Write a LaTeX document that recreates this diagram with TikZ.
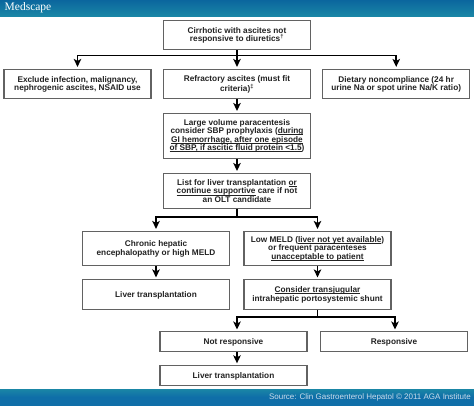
\documentclass[tikz,border=0pt]{standalone}
\usepackage{fontspec}
\setmainfont{Liberation Sans}
\newfontfamily\logofont{Liberation Serif}
\usetikzlibrary{arrows.meta}
\definecolor{band}{HTML}{0B669E}
\definecolor{bandlow}{HTML}{1A86A6}
\definecolor{footmid}{HTML}{0F6EA8}
\definecolor{boxedge}{HTML}{626262}
\definecolor{ink}{HTML}{222222}
\definecolor{srctext}{HTML}{CADDEB}
\newlength{\ulwd}
\newcommand{\ulx}[1]{\settowidth{\ulwd}{#1}\leavevmode\rlap{\rule[-1.1pt]{\ulwd}{0.55pt}}#1}
\tikzset{
  flowbox/.style={draw=boxedge,line width=1.05pt,fill=white,minimum width=147pt,inner sep=0pt,align=center,
    text=ink,font=\fontsize{8.25}{8.4}\selectfont\bfseries,anchor=center,
    execute at begin node={\rule{0pt}{8.2pt}}},
  conn/.style={draw=black,line width=1.5pt,-{Stealth[length=8pt,width=7.5pt,inset=2pt]},shorten >=2pt}
}
\begin{document}
\begin{tikzpicture}[x=1pt,y=-1pt]
\useasboundingbox (0,0) rectangle (474,405);
\fill[white] (0,0) rectangle (474,405);
\path[top color=band,bottom color=bandlow,draw=none] (0,0) rectangle (474,16);
\path[top color=bandlow,bottom color=footmid,draw=none,middle color=footmid] (0,389) rectangle (474,405);
\node[anchor=west,text=white,inner sep=0pt,font=\fontsize{11.5}{12}\selectfont\logofont] (logo) at (4.5,8) {Medscape};
\node[anchor=east,text=srctext,inner sep=0pt,font=\fontsize{8}{9}\selectfont] (src) at (471,397) {Source: Clin Gastroenterol Hepatol © 2011 AGA Institute};

\node[flowbox,minimum height=29.5pt] (top) at (237,35.2) {Cirrhotic with ascites not\\responsive to diuretics\textsuperscript{†}};
\node[flowbox,minimum height=29.5pt] (excl) at (77.5,84.2) {Exclude infection, malignancy,\\nephrogenic ascites, NSAID use};
\node[flowbox,minimum height=29.5pt] (refr) at (237,84.2) {Refractory ascites (must fit\\criteria)\textsuperscript{‡}};
\node[flowbox,minimum height=29.5pt] (diet) at (396.2,84.2) {Dietary noncompliance (24 hr\\urine Na or spot urine Na/K ratio)};
\node[flowbox,minimum height=45pt] (para) at (237,136) {Large volume paracentesis\\consider SBP prophylaxis (\ulx{during}\\\ulx{GI hemorrhage, after one episode}\\\ulx{of SBP, if ascitic fluid protein <1.5})};
\node[flowbox,minimum height=35pt] (list) at (237,191) {List for liver transplantation \ulx{or}\\\ulx{continue supportive} care if not\\an OLT candidate};
\node[flowbox,minimum height=34.5pt] (chron) at (156,248.7) {Chronic hepatic\\encephalopathy or high MELD};
\node[flowbox,minimum height=34.5pt] (low) at (317.5,248.7) {Low MELD (\ulx{liver not yet available})\\or frequent paracenteses\\\ulx{unacceptable to patient}};
\node[flowbox,minimum height=29.5pt] (lt1) at (156,294.7) {Liver transplantation};
\node[flowbox,minimum height=29.5pt] (tips) at (317.5,294.7) {\ulx{Consider transjugular}\\intrahepatic portosystemic shunt};
\node[flowbox,minimum height=20.5pt] (nr) at (233.5,341.7) {Not responsive};
\node[flowbox,minimum height=20.5pt] (resp) at (394,341.7) {Responsive};
\node[flowbox,minimum height=20pt] (lt2) at (233.5,375.3) {Liver transplantation};

\coordinate (nrin) at (237,331.5);
\coordinate (nrout) at (237,352);
\coordinate (ltin) at (237,365.3);
\coordinate (respin) at (395,331.5);

\draw[conn] (top.south) -- (refr.north);
\draw[conn] (top.south) -- ++(0,5) -| (excl.north);
\draw[conn] (top.south) -- ++(0,5) -| (diet.north);
\draw[conn] (refr.south) -- (para.north);
\draw[conn] (para.south) -- (list.north);
\draw[conn] (list.south) -- ++(0,8) -| (chron.north);
\draw[conn] (list.south) -- ++(0,8) -| (low.north);
\draw[conn] (chron.south) -- (lt1.north);
\draw[conn] (low.south) -- (tips.north);
\draw[conn] (tips.south) -- ++(0,7) -| (nrin);
\draw[conn] (tips.south) -- ++(0,7) -| (respin);
\draw[conn] (nrout) -- (ltin);
\end{tikzpicture}
\end{document}
